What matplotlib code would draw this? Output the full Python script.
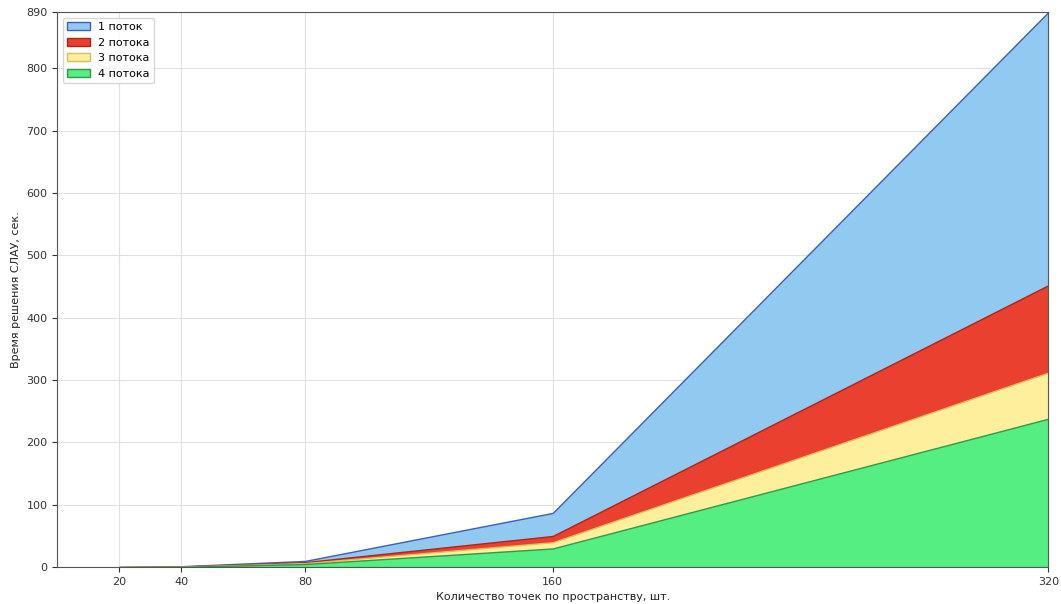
import matplotlib
matplotlib.use("Agg")
import matplotlib.pyplot as plt

# Число точек по пространству
points = [20, 40, 80, 160, 320]

# Время решения СЛАУ для разного числа потоков, сек.
t1 = [0.3, 1.5, 10, 87, 890]
t2 = [0.2, 1.0, 8, 50, 452]
t3 = [0.15, 0.8, 6.5, 40, 312]
t4 = [0.1, 0.6, 5, 30, 238]

labels = ["1 поток", "2 потока", "3 потока", "4 потока"]
series = [t1, t2, t3, t4]
fills = ["#92c9f0", "#e9402f", "#fdef9c", "#55ee82"]
edges = ["#3a5fc0", "#b02418", "#d8c060", "#2f9a4a"]

fig = plt.figure(figsize=(10.61, 6.04), dpi=100)
ax = fig.add_axes([0.054, 0.061, 0.934, 0.919])

for ys, lab, fc, ec in zip(series, labels, fills, edges):
    ax.fill_between(points, 0, ys, facecolor=fc, edgecolor=ec, linewidth=1, label=lab)

ax.set_xlim(0, 320)
ax.set_ylim(0, 890)
ax.set_xticks(points)
ax.set_yticks([0, 100, 200, 300, 400, 500, 600, 700, 800, 890])
ax.tick_params(labelsize=8, colors="#333333")
ax.grid(True, color="#e0e0e0", linewidth=0.8)
ax.set_axisbelow(True)
for sp in ax.spines.values():
    sp.set_color("#555555")

ax.set_xlabel("Количество точек по пространству, шт.", fontsize=8, color="#222222")
ax.set_ylabel("Время решения СЛАУ, сек.", fontsize=8, color="#222222")
ax.legend(loc="upper left", fontsize=8)

fig.savefig("out.png", dpi=100)
